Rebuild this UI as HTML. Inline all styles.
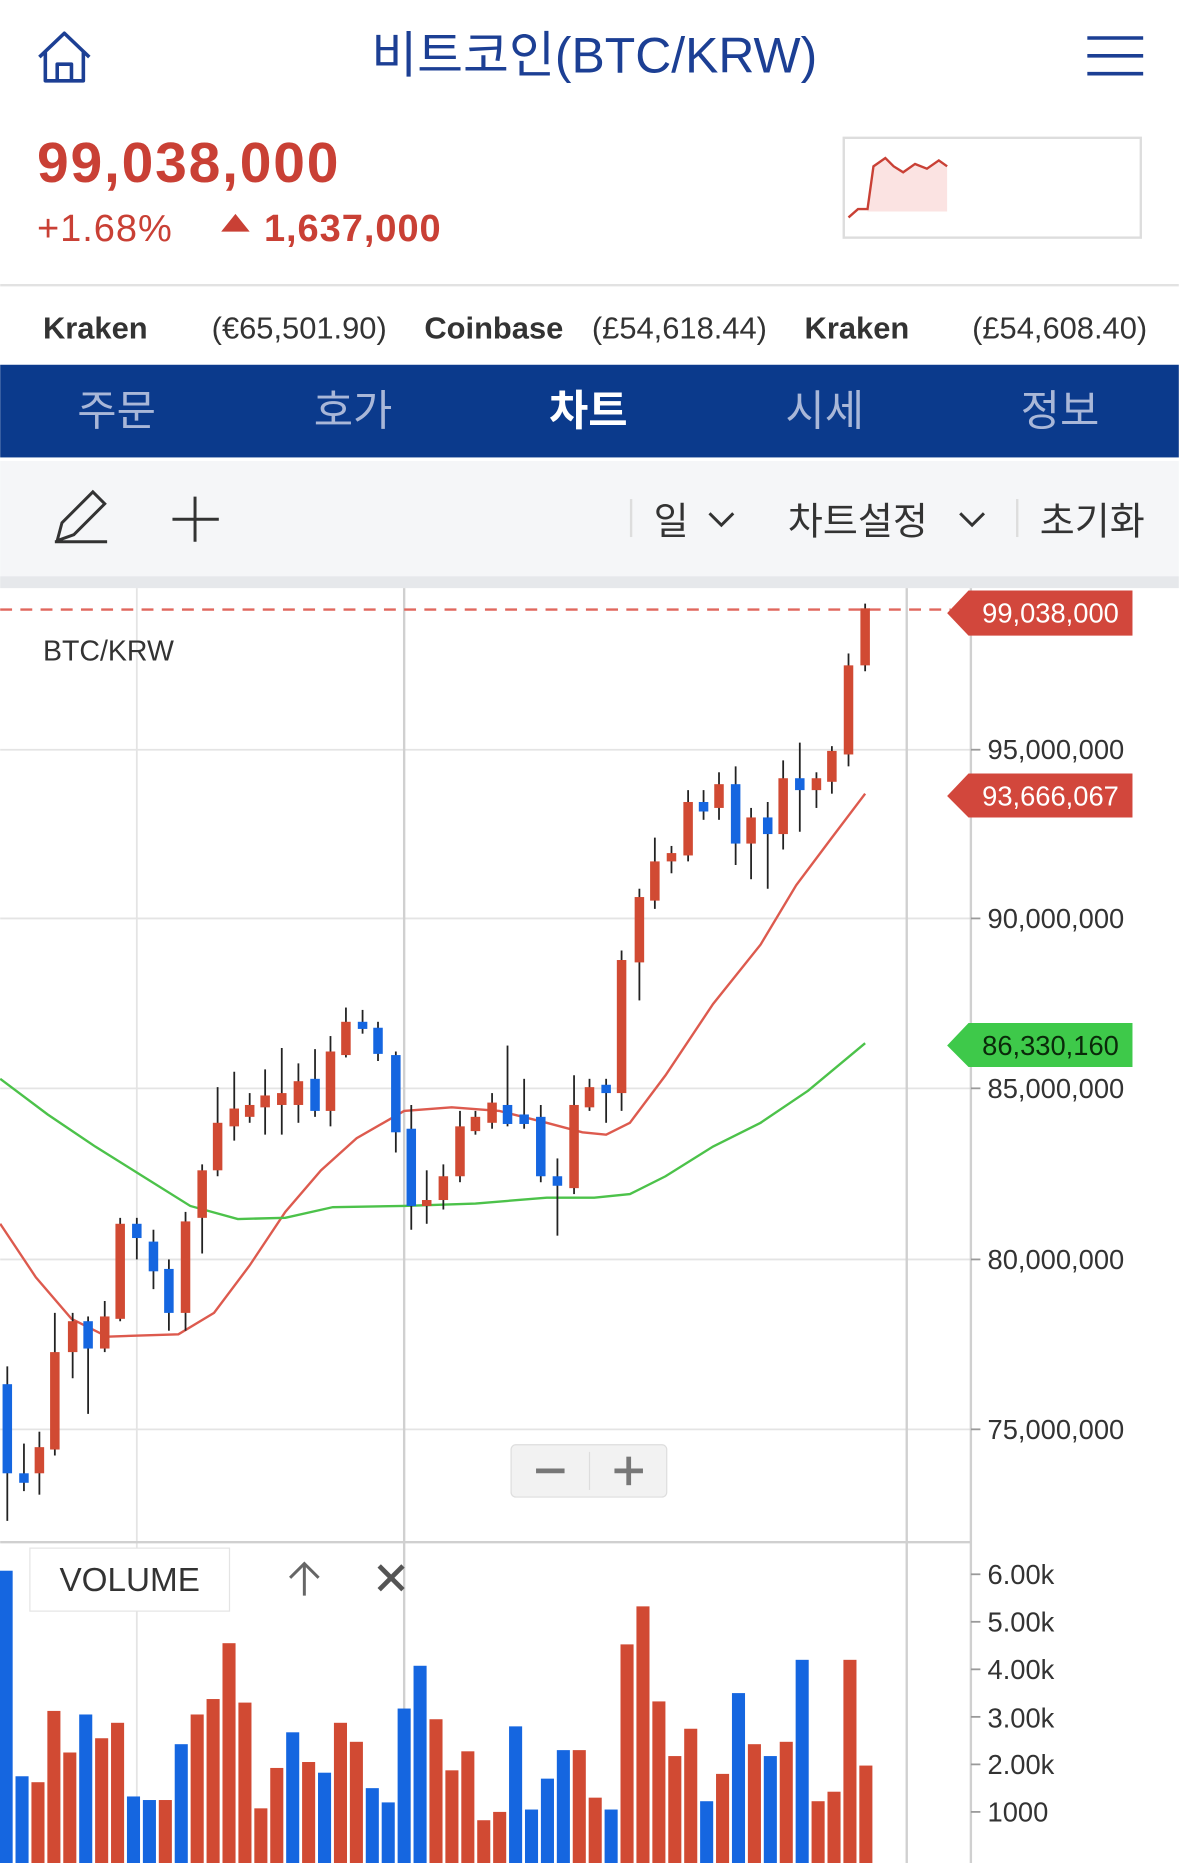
<!DOCTYPE html>
<html><head><meta charset="utf-8"><style>
html,body{margin:0;padding:0;background:#fff;}
svg{display:block;}
text{font-family:"Liberation Sans","Noto Sans CJK KR",sans-serif;}
</style></head><body>
<svg width="1179" height="1863" viewBox="0 0 992 1568" xmlns="http://www.w3.org/2000/svg">
<rect width="992" height="1568" fill="#fff"/>
<g fill="none" stroke="#1c3f94" stroke-width="3" stroke-linejoin="round">
<path d="M33 48 L54 28 L75 48 M38 44 V68 H70 V44 M48 68 V54 H60 V68"/>
</g>
<text x="500" y="61" font-size="42" fill="#1c3f94" text-anchor="middle">비트코인(BTC/KRW)</text>
<g stroke="#1c3f94" stroke-width="3"><line x1="915" y1="32" x2="962" y2="32"/><line x1="915" y1="47" x2="962" y2="47"/><line x1="915" y1="62" x2="962" y2="62"/></g>
<text x="31" y="153" font-size="48" font-weight="bold" fill="#c94035" letter-spacing="1.5">99,038,000</text>
<text x="31" y="203" font-size="32" fill="#c94035" letter-spacing="0.8">+1.68%</text>
<polygon points="186,195 198,180 210,195" fill="#c94035"/>
<text x="222" y="203" font-size="32" font-weight="bold" fill="#c94035" letter-spacing="0.8">1,637,000</text>
<rect x="710" y="116" width="250" height="84" fill="#fff" stroke="#ddd" stroke-width="2"/>
<polygon points="730,178 735,140 745,133 752,140 760,145 770,138 780,142 790,135 797,140 797,178" fill="#fbe3e2"/>
<polyline points="714,183 722,176 730,176 735,140 745,133 752,140 760,145 770,138 780,142 790,135 797,140" fill="none" stroke="#c94035" stroke-width="2"/>
<line x1="0" y1="240" x2="992" y2="240" stroke="#e2e2e2" stroke-width="2"/>
<g font-size="26" fill="#333">
<text x="36" y="285" font-weight="bold">Kraken</text><text x="178" y="285">(€65,501.90)</text>
<text x="357" y="285" font-weight="bold">Coinbase</text><text x="498" y="285">(£54,618.44)</text>
<text x="677" y="285" font-weight="bold">Kraken</text><text x="818" y="285">(£54,608.40)</text>
</g>
<rect x="0" y="307" width="992" height="78" fill="#0b3a8c"/>
<g font-size="36" text-anchor="middle" fill="#a9b7d8">
<text x="98" y="358">주문</text><text x="297" y="358">호가</text>
<text x="495" y="358" fill="#fff" font-weight="bold">차트</text>
<text x="694" y="358">시세</text><text x="892" y="358">정보</text>
</g>
<rect x="0" y="388" width="992" height="97" fill="#f5f6f8"/>
<rect x="0" y="485" width="992" height="10" fill="#e6e8eb"/>
<g fill="none" stroke="#333" stroke-width="2.5">
<path d="M48 455 L52 440 L78 414 L88 424 L62 450 Z M46 456 H90"/>
<path d="M164 418 V456 M145 437 H184"/>
<path d="M597 432 L607 442 L617 432"/>
<path d="M808 432 L818 442 L828 432"/>
</g>
<line x1="531" y1="420" x2="531" y2="452" stroke="#ddd" stroke-width="2"/>
<line x1="856" y1="420" x2="856" y2="452" stroke="#ddd" stroke-width="2"/>
<g font-size="32" fill="#333"><text x="550" y="450">일</text><text x="663" y="450">차트설정</text><text x="875" y="450">초기화</text></g>
<g stroke="#e4e4e4" stroke-width="1.5">
<line x1="0" y1="631" x2="817" y2="631"/><line x1="0" y1="773" x2="817" y2="773"/>
<line x1="0" y1="916" x2="817" y2="916"/><line x1="0" y1="1060" x2="817" y2="1060"/>
<line x1="0" y1="1203" x2="817" y2="1203"/>
<line x1="115" y1="495" x2="115" y2="1568"/>
</g>
<g stroke="#d0d0d0" stroke-width="2">
<line x1="340" y1="495" x2="340" y2="1568"/><line x1="763" y1="495" x2="763" y2="1568"/>
<line x1="817" y1="495" x2="817" y2="1568"/>
<line x1="0" y1="1298" x2="817" y2="1298"/>
</g>
<g stroke="#999" stroke-width="1.5">
<line x1="817" y1="631" x2="825" y2="631"/><line x1="817" y1="773" x2="825" y2="773"/><line x1="817" y1="916" x2="825" y2="916"/><line x1="817" y1="1060" x2="825" y2="1060"/><line x1="817" y1="1203" x2="825" y2="1203"/>
<line x1="817" y1="1325" x2="825" y2="1325"/><line x1="817" y1="1365" x2="825" y2="1365"/><line x1="817" y1="1405" x2="825" y2="1405"/><line x1="817" y1="1445" x2="825" y2="1445"/><line x1="817" y1="1485" x2="825" y2="1485"/><line x1="817" y1="1525" x2="825" y2="1525"/>
</g>
<g font-size="23" fill="#333">
<text x="831" y="639">95,000,000</text><text x="831" y="781">90,000,000</text><text x="831" y="924">85,000,000</text><text x="831" y="1068">80,000,000</text><text x="831" y="1211">75,000,000</text>
<text x="831" y="1333">6.00k</text><text x="831" y="1373">5.00k</text><text x="831" y="1413">4.00k</text><text x="831" y="1454">3.00k</text><text x="831" y="1493">2.00k</text><text x="831" y="1533">1000</text>
</g>
<text x="36" y="556" font-size="24" fill="#333">BTC/KRW</text>
<line x1="0" y1="513" x2="800" y2="513" stroke="#e0675d" stroke-width="2" stroke-dasharray="10,7"/>
<polyline fill="none" stroke="#dd5a4e" stroke-width="2" points="0,1030 30,1075 60,1110 90,1125 150,1123 180,1105 210,1065 240,1020 270,985 300,958 340,935 380,932 420,935 460,945 490,953 510,955 530,945 560,905 600,845 640,795 670,745 700,705 728,668"/>
<polyline fill="none" stroke="#4cc24a" stroke-width="2" points="0,908 40,938 80,965 120,990 160,1015 200,1026 240,1025 280,1016 340,1015 400,1013 460,1008 500,1008 530,1005 560,990 600,965 640,945 680,918 728,878"/>
<g id="candles"></g>
<g id="vols"></g>
<polygon points="797,516 815,497 953,497 953,535 815,535" fill="#d2473c"/>
<text x="884" y="524" font-size="23" fill="#fff" text-anchor="middle">99,038,000</text>
<polygon points="797,670 815,651 953,651 953,688 815,688" fill="#d2473c"/>
<text x="884" y="678" font-size="23" fill="#fff" text-anchor="middle">93,666,067</text>
<polygon points="797,880 815,861 953,861 953,898 815,898" fill="#3ec94a"/>
<text x="884" y="888" font-size="23" fill="#0a2a0a" text-anchor="middle">86,330,160</text>
<rect x="430" y="1216" width="131" height="44" rx="4" fill="#f2f2f2" stroke="#ddd"/>
<line x1="496" y1="1222" x2="496" y2="1254" stroke="#ddd"/>
<g stroke="#777" stroke-width="4"><line x1="451" y1="1238" x2="475" y2="1238"/><line x1="517" y1="1238" x2="541" y2="1238"/><line x1="529" y1="1226" x2="529" y2="1250"/></g>
<rect x="25" y="1303" width="168" height="53" fill="#fff" stroke="#e4e4e4"/>
<text x="109" y="1339" font-size="28" fill="#333" text-anchor="middle">VOLUME</text>
<g stroke="#666" stroke-width="2.5" fill="none"><path d="M256 1343 V1316 M244 1328 L256 1316 L268 1328"/></g>
<g stroke="#555" stroke-width="4"><line x1="319" y1="1318" x2="339" y2="1338"/><line x1="339" y1="1318" x2="319" y2="1338"/></g>
</svg>
<script>
var R="#d14a33",B="#1566e0";
var c=[[6,'b',1165,1240,1150,1280],[20,'b',1240,1248,1215,1255],[33,'r',1218,1240,1205,1258],[46,'r',1138,1220,1105,1225],[61,'r',1112,1138,1105,1160],[74,'b',1112,1135,1108,1190],[88,'r',1108,1135,1095,1138],[101,'r',1030,1110,1025,1112],[115,'b',1030,1042,1025,1060],[129,'b',1045,1070,1035,1085],[142,'b',1068,1105,1060,1120],[156,'r',1028,1105,1020,1120],[170,'r',985,1025,980,1055],[183,'r',945,985,915,990],[197,'r',933,948,902,960],[210,'r',930,940,920,945],[223,'r',922,932,900,955],[237,'r',920,930,882,955],[251,'r',910,930,895,945],[265,'b',908,935,883,940],[278,'r',885,935,872,948],[291,'r',860,888,848,890],[305,'b',860,866,850,870],[318,'b',865,887,860,893],[333,'b',888,953,885,970],[346,'b',950,1015,930,1035],[359,'r',1010,1015,985,1030],[373,'r',990,1010,980,1018],[387,'r',948,990,935,995],[400,'r',940,952,935,955],[414,'r',928,945,920,950],[427,'b',930,946,880,948],[441,'b',938,946,908,950],[455,'b',940,990,930,995],[469,'b',990,998,975,1040],[483,'r',930,1000,905,1005],[496,'r',915,932,908,935],[510,'b',913,920,908,945],[523,'r',808,920,800,935],[538,'r',755,810,748,842],[551,'r',725,758,705,765],[565,'r',718,725,712,735],[579,'r',675,720,665,725],[592,'b',675,683,665,690],[605,'r',660,680,650,690],[619,'b',660,710,645,728],[632,'r',688,710,680,740],[646,'b',688,702,675,748],[659,'r',655,702,640,715],[673,'b',655,665,625,700],[687,'r',655,665,650,680],[700,'r',632,658,628,668],[714,'r',560,635,550,645],[728,'r',512,560,508,565]];
var s='';
c.forEach(function(d){var col=d[1]=='r'?R:B;s+='<line x1="'+d[0]+'" y1="'+d[4]+'" x2="'+d[0]+'" y2="'+d[5]+'" stroke="#222" stroke-width="1.5"/><rect x="'+(d[0]-4)+'" y="'+d[2]+'" width="8" height="'+Math.max(3,d[3]-d[2])+'" fill="'+col+'"/>';});
document.getElementById('candles').innerHTML=s;
var v=[['b',1322],['b',1495],['r',1500],['r',1440],['r',1475],['b',1443],['r',1463],['r',1450],['b',1512],['b',1515],['r',1515],['b',1468],['r',1443],['r',1430],['r',1383],['r',1433],['r',1522],['r',1488],['b',1458],['r',1483],['b',1492],['r',1450],['r',1466],['b',1505],['b',1517],['b',1438],['b',1402],['r',1447],['r',1490],['r',1474],['r',1532],['r',1525],['b',1453],['b',1523],['b',1497],['b',1473],['r',1473],['r',1513],['b',1523],['r',1384],['r',1352],['r',1432],['r',1478],['r',1455],['b',1516],['r',1493],['b',1425],['r',1468],['b',1478],['r',1466],['b',1397],['r',1516],['r',1508],['r',1397],['r',1486]];
s='';v.forEach(function(d,i){var x=5+i*13.4;s+='<rect x="'+(x-5.5)+'" y="'+d[1]+'" width="11" height="'+(1568-d[1])+'" fill="'+(d[0]=='r'?R:B)+'"/>';});
document.getElementById('vols').innerHTML=s;
</script>
</body></html>
